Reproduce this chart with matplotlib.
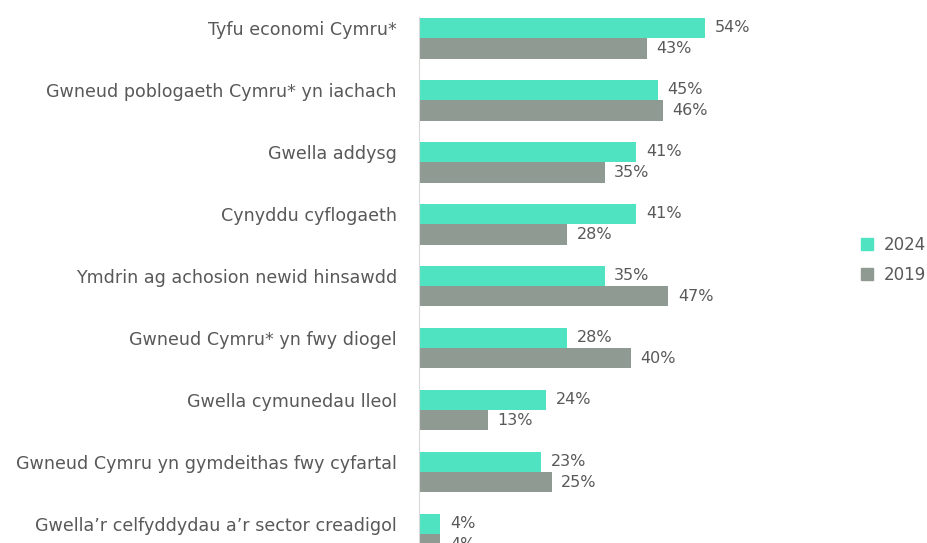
import matplotlib.pyplot as plt
from matplotlib.patches import Patch

categories = [
    "Tyfu economi Cymru*",
    "Gwneud poblogaeth Cymru* yn iachach",
    "Gwella addysg",
    "Cynyddu cyflogaeth",
    "Ymdrin ag achosion newid hinsawdd",
    "Gwneud Cymru* yn fwy diogel",
    "Gwella cymunedau lleol",
    "Gwneud Cymru yn gymdeithas fwy cyfartal",
    "Gwella\u2019r celfyddydau a\u2019r sector creadigol",
]
vals_2024 = [54, 45, 41, 41, 35, 28, 24, 23, 4]
vals_2019 = [43, 46, 35, 28, 47, 40, 13, 25, 4]

teal = "#50E3C2"
grey = "#8F9A93"
txt = "#595959"

fig = plt.figure(figsize=(9.28, 5.43), dpi=100)
top_px, bot_px = 17, 565
ax = fig.add_axes([419 / 928, (543 - bot_px) / 543, 424 / 928, (bot_px - top_px) / 543])

h = 0.33
y = list(range(len(categories)))
b1 = ax.barh([i - h / 2 for i in y], vals_2024, height=h, color=teal, label="2024")
b2 = ax.barh([i + h / 2 for i in y], vals_2019, height=h, color=grey, label="2019")
ax.bar_label(b1, labels=[f"{v}%" for v in vals_2024], padding=7, color=txt, fontsize=11.5)
ax.bar_label(b2, labels=[f"{v}%" for v in vals_2019], padding=7, color=txt, fontsize=11.5)

ax.set_xlim(0, 80)
ax.set_ylim(8.5, -0.34)
ax.set_yticks([i - h / 2 for i in y])
ax.set_yticklabels(categories, fontsize=12.6, color=txt)
ax.tick_params(axis="y", length=0, pad=16)
ax.set_xticks([])
for s in ["top", "right", "bottom"]:
    ax.spines[s].set_visible(False)
ax.spines["left"].set_color("#d9d9d9")

fig.legend(handles=[Patch(color=teal, label="2024"), Patch(color=grey, label="2019")],
           loc="center left", bbox_to_anchor=(846 / 928, 1 - 260 / 543), frameon=False,
           fontsize=12, labelcolor=txt, handlelength=0.75, handleheight=0.75,
           handletextpad=0.6, labelspacing=0.7)

fig.savefig("out.png", dpi=100)
